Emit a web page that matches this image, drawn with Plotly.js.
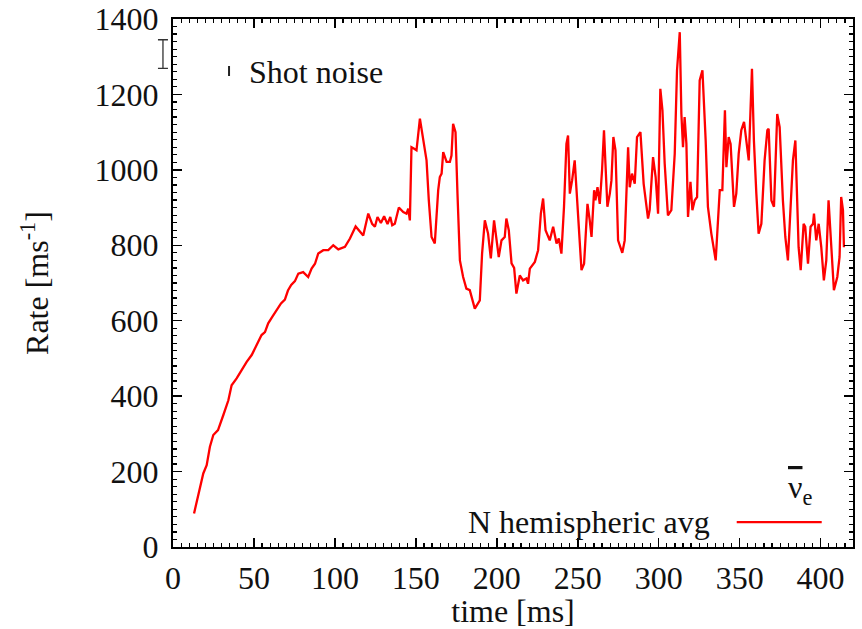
<!DOCTYPE html>
<html>
<head>
<meta charset="utf-8">
<script src="https://cdn.plot.ly/plotly-3.0.1.min.js"></script>
<style>html,body{margin:0;padding:0;background:#fff;}#chart{width:862px;height:629px;}</style>
</head>
<body>
<div id="chart"></div>
<script>
// time [ms]
const timeMs = [13.0,16.7,18.7,20.8,22.8,24.9,27.8,31.1,34.2,36.2,39.3,42.4,45.5,48.6,51.6,54.7,56.8,58.8,61.3,64.0,66.7,69.1,71.0,73.0,75.3,77.4,80.4,83.5,85.6,87.7,89.7,92.8,95.9,99.0,102.1,106.2,109.3,112.8,115.4,117.5,120.6,123.0,124.7,126.3,128.4,130.4,132.5,134.2,135.4,137.0,139.5,142.2,144.2,145.3,146.3,147.3,149.0,150.4,152.5,154.5,156.6,158.0,159.7,161.7,163.8,164.8,165.9,166.9,169.0,171.0,172.0,173.0,174.5,175.7,177.2,179.2,181.2,183.3,186.4,189.5,190.9,192.6,194.6,196.3,198.3,201.2,202.9,204.9,205.9,207.4,209.1,210.7,212.1,214.2,216.2,218.3,219.3,220.4,223.5,225.5,227.2,228.6,230.1,232.7,234.8,236.9,238.3,239.9,241.5,243.0,244.0,245.1,246.5,248.1,250.2,252.3,253.9,256.0,257.4,258.5,260.1,260.9,262.2,263.6,265.0,266.2,267.1,268.3,269.8,270.8,272.0,273.3,274.9,277.5,279.0,281.1,282.1,283.5,285.2,286.6,288.7,290.7,293.4,294.4,296.5,298.1,299.6,301.0,302.3,303.7,305.7,307.8,309.9,311.3,313.0,314.0,315.0,316.0,317.1,318.1,319.6,320.8,322.2,323.7,325.3,327.0,329.0,330.4,332.5,335.2,337.7,339.3,340.9,341.8,343.2,344.4,346.5,347.9,349.4,351.0,352.7,354.1,355.6,357.6,358.8,360.3,361.7,363.4,365.4,367.1,367.9,369.6,371.2,373.2,374.7,376.7,378.2,379.8,381.5,382.9,384.4,385.6,386.4,387.7,389.5,390.5,392.2,393.8,395.3,395.9,397.3,398.8,400.4,402.0,403.5,404.9,406.6,408.2,410.3,411.7,412.7,413.8,414.4];
// Rate [ms^-1], N hemispheric avg, anti-nu_e
const rateAvg = [89,160,195,217,266,297,310,350,389,429,447,469,491,509,535,562,570,593,610,628,646,656,680,695,705,725,729,716,738,751,778,787,787,800,789,796,818,850,835,826,884,857,849,875,859,877,856,875,853,857,900,888,884,897,866,1060,1056,1052,1136,1087,1025,919,822,805,946,981,990,1047,1021,1021,1038,1122,1100,937,760,716,685,681,632,654,778,866,831,765,866,769,813,822,871,840,752,740,672,720,707,712,698,738,756,787,884,924,840,813,849,805,818,778,902,1069,1091,937,972,1025,866,734,751,910,866,822,946,919,954,910,999,1105,1016,902,937,972,1087,1052,813,780,813,1060,954,990,963,1087,1100,963,871,893,1034,981,884,1215,1158,1016,879,893,1043,1264,1365,1148,1060,1140,1069,875,968,893,919,928,1237,1264,1078,902,831,760,946,946,1158,1007,1087,1069,902,937,1043,1105,1127,1069,1025,1268,1078,937,831,857,1025,1105,1109,919,902,1148,1113,919,822,760,902,1025,1078,919,795,734,857,849,751,849,857,884,813,857,795,707,760,919,778,681,716,769,928,893,795];

// Shot noise error bar (centre and half-height), drawn just left of the frame
const shotNoiseX = [-6.2];
const shotNoiseY = [1307];
const shotNoiseErr = [38];

const xTicks = [0,50,100,150,200,250,300,350,400];
const yTicks = [0,200,400,600,800,1000,1200,1400];

const fontFamily = '"Liberation Serif", "DejaVu Serif", serif';
const fsize = 32;
const txtColor = '#111';

// layout geometry: outer overlay subplot starts 23px left of the main frame
const marginL = 150, marginR = 9, plotW = 862 - marginL - marginR;
const frameOffset = 23;
const xMax = 420;
const mainDomainStart = frameOffset / plotW;
const pxPerUnit = (plotW - frameOffset) / xMax;
const overlayXMin = -frameOffset / pxPerUnit;

const traces = [
  {
    x: timeMs, y: rateAvg, type: 'scatter', mode: 'lines',
    line: {color: '#ff0000', width: 2.3}, name: 'N hemispheric avg', showlegend: false
  },
  {
    x: shotNoiseX, y: shotNoiseY, xaxis: 'x2', yaxis: 'y2', type: 'scatter', mode: 'markers',
    marker: {size: 1, color: 'rgba(0,0,0,0)'},
    error_y: {type: 'data', array: shotNoiseErr, visible: true, color: '#333', thickness: 1.3, width: 5},
    name: 'Shot noise', showlegend: false
  }
];

const axisCommon = {
  showline: true, linecolor: '#000', linewidth: 2, mirror: 'allticks',
  ticks: 'inside', ticklen: 9, tickwidth: 1.5, tickcolor: '#000',
  showgrid: false, zeroline: false,
  tickfont: {family: fontFamily, size: fsize, color: txtColor}
};

const layout = {
  width: 862, height: 629,
  margin: {l: marginL, r: marginR, t: 19, b: 82},
  paper_bgcolor: '#fff', plot_bgcolor: 'rgba(0,0,0,0)',
  showlegend: false,
  font: {family: fontFamily, size: fsize, color: txtColor},
  xaxis: Object.assign({}, axisCommon, {
    domain: [mainDomainStart, 1],
    range: [0, xMax], tickvals: xTicks, ticktext: xTicks.map(String),
    minor: {dtick: 5, tick0: 0, ticks: 'inside', ticklen: 4, tickwidth: 1.2, tickcolor: '#000', showgrid: false},
    ticklabelstandoff: 2,
    title: {text: 'time [ms]', font: {family: fontFamily, size: fsize, color: txtColor}, standoff: 0}
  }),
  yaxis: Object.assign({}, axisCommon, {
    range: [0, 1400], tickvals: yTicks, ticktext: yTicks.map(String),
    minor: {dtick: 20, tick0: 0, ticks: 'inside', ticklen: 4, tickwidth: 1.2, tickcolor: '#000', showgrid: false},
    ticklabelstandoff: 6,
    title: {text: 'Rate [ms<sup>-1</sup>]', font: {family: fontFamily, size: fsize, color: txtColor}, standoff: 36}
  }),
  xaxis2: {domain: [0, 1], range: [overlayXMin, xMax], anchor: 'y2', visible: false, fixedrange: true},
  yaxis2: {domain: [0, 1], range: [0, 1400], anchor: 'x2', visible: false, fixedrange: true},
  annotations: [
    {xref: 'x domain', yref: 'y domain', x: 0.1088, y: 0.8996, xanchor: 'left', yanchor: 'middle',
     text: 'Shot noise', showarrow: false, font: {family: fontFamily, size: fsize, color: txtColor}},
    {xref: 'x domain', yref: 'y domain', x: 0.7926, y: 0.0473, xanchor: 'right', yanchor: 'middle',
     text: 'N hemispheric avg', showarrow: false, font: {family: fontFamily, size: fsize, color: txtColor}},
    {xref: 'x domain', yref: 'y domain', x: 0.922, y: 0.108, xanchor: 'center', yanchor: 'middle',
     text: '<span style="text-decoration:overline">ν</span><sub>e</sub>', showarrow: false,
     font: {family: fontFamily, size: fsize, color: txtColor}}
  ],
  shapes: [
    {type: 'line', xref: 'x domain', yref: 'y domain', x0: 0.829, x1: 0.954, y0: 0.0473, y1: 0.0473,
     line: {color: '#ff0000', width: 2.3}},
    {type: 'line', xref: 'x domain', yref: 'y domain', x0: 0.0824, x1: 0.0824, y0: 0.892, y1: 0.911,
     line: {color: '#222', width: 2}}
  ]
};

Plotly.newPlot('chart', traces, layout, {staticPlot: true, displayModeBar: false});
</script>
</body>
</html>
